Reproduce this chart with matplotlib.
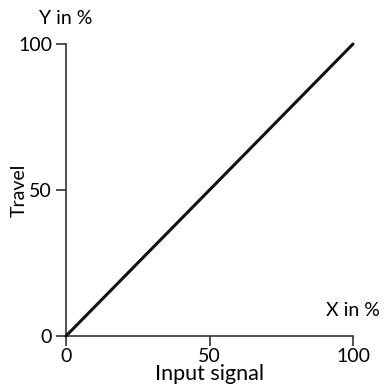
import matplotlib
matplotlib.use('Agg')
import matplotlib.pyplot as plt

# Linear characteristic: travel follows input signal
input_signal = [0, 100]
travel = [0, 100]
ticks = [0, 50, 100]
tick_labels = ['0', '50', '100']

plt.rcParams['font.family'] = ['Lato', 'DejaVu Sans']
AX_COLOR = '#333333'
FS = 14

fig = plt.figure(figsize=(3.85, 3.92), dpi=100)
ax = fig.add_axes([66 / 385, 56 / 392, 287 / 385, 292 / 392])

ax.plot(input_signal, travel, color='#111111', lw=2.2, clip_on=False,
        solid_capstyle='round', zorder=3)

ax.set_xlim(0, 100)
ax.set_ylim(0, 100)
for s in ('top', 'right'):
    ax.spines[s].set_visible(False)
for s in ('left', 'bottom'):
    ax.spines[s].set_color(AX_COLOR)
    ax.spines[s].set_linewidth(1.2)

ax.set_xticks(ticks)
ax.set_xticklabels(tick_labels)
ax.set_yticks(ticks)
ax.set_yticklabels(tick_labels)
ax.tick_params(which='major', direction='out', length=7, width=1.2,
               color=AX_COLOR, labelsize=FS)
ax.tick_params(axis='x', pad=2)
ax.tick_params(axis='y', pad=3)
# end ticks cross the axis line
ax.set_xticks([100], minor=True)
ax.set_yticks([100], minor=True)
ax.tick_params(which='minor', direction='in', length=7, width=1.2,
               color=AX_COLOR)

ax.set_xlabel('Input signal', fontsize=15.5, labelpad=-1)
ax.set_ylabel('Travel', fontsize=FS, labelpad=-7)

ax.text(0, 1.0 + 25 / 292, 'Y in %', transform=ax.transAxes,
        ha='center', va='center', fontsize=FS)
ax.text(1.0, 26 / 292, 'X in %', transform=ax.transAxes,
        ha='center', va='center', fontsize=FS)

fig.savefig('out.png', dpi=100)
